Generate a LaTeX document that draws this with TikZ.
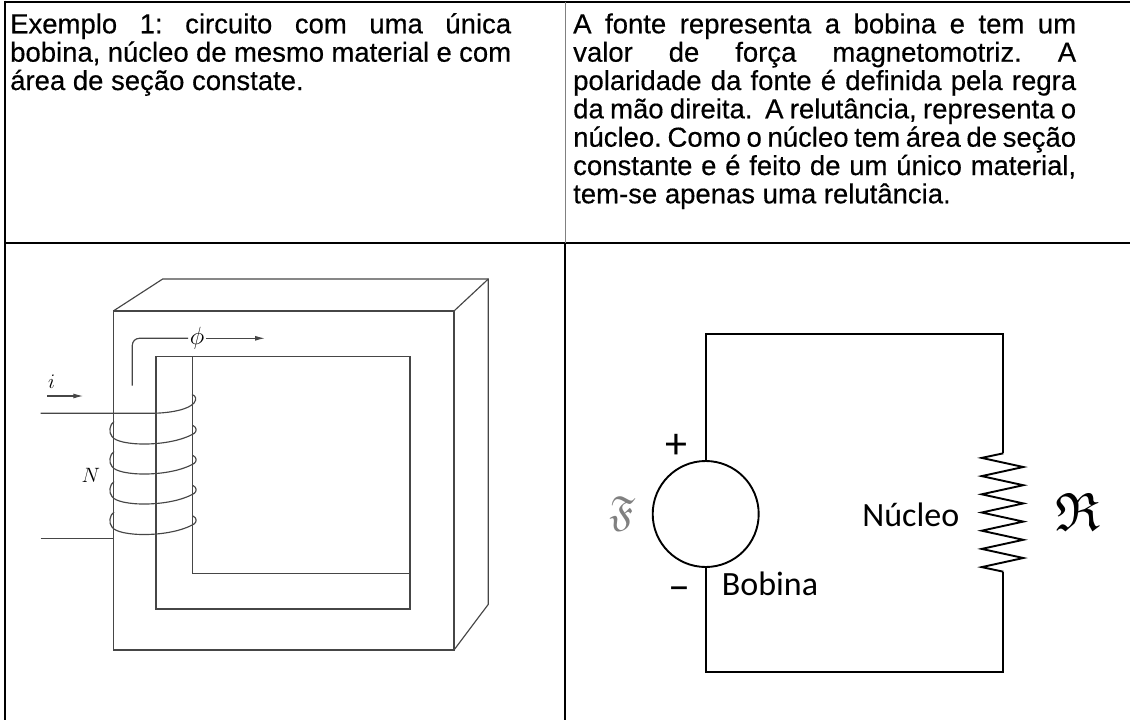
\documentclass[tikz,border=0pt]{standalone}
\usepackage{amssymb}
\usepackage{fontspec}
\setmainfont{Liberation Sans}[FakeBold=0.4]
\newfontfamily\carlito{Carlito}
\usetikzlibrary{arrows.meta}
\definecolor{coregray}{RGB}{70,70,70}
\begin{document}
\begin{tikzpicture}[x=1pt,y=-1pt,
  core/.style={draw=coregray, line width=1.15pt},
  wire/.style={draw=black, line width=1.9pt},
  tline/.style={anchor=base west, inner sep=0pt, font=\frenchspacing\fontsize{27.5}{28}\selectfont},
  lbl/.style={inner sep=0pt, font=\carlito\fontsize{34}{34}\selectfont},
  sgn/.style={inner sep=0pt, font=\carlito\fontsize{44}{44}\selectfont},
  mlbl/.style={inner sep=0pt, font=\fontsize{21}{21}\selectfont},
  arr/.style={-{Latex[length=10pt,width=5pt]}}]
\useasboundingbox (0,0) rectangle (1130,720);
% table
\draw[line width=2pt] (5,1.5) -- (1130,1.5);
\draw[line width=2pt] (5,0.5) -- (5,720);
\draw[line width=2pt] (5,243) -- (1130,243);
\draw[line width=0.9pt, draw=gray] (565,1.5) -- (565,243);
\draw[line width=2pt] (565,243) -- (565,720);
% left text
\node[tline] (a1) at (10,33.3) {\hbox to 501pt{Exemplo 1: circuito com uma única}};
\node[tline] (a2) at (10,61.7) {\hbox to 501pt{bobina, núcleo de mesmo material e com}};
\node[tline] (a3) at (10,90) {área de seção constate.};
% right text
\node[tline] (b1) at (573,33.3) {\hbox to 503pt{A fonte representa a bobina e tem um}};
\node[tline] (b2) at (573,61.7) {\hbox to 503pt{valor de força magnetomotriz. A}};
\node[tline] (b3) at (573,90) {\hbox to 503pt{polaridade da fonte é definida pela regra}};
\node[tline] (b4) at (573,118.3) {\hbox to 503pt{da mão direita.\ \ A relutância, representa o}};
\node[tline] (b5) at (573,146.7) {\hbox to 503pt{núcleo. Como o núcleo tem área de seção}};
\node[tline] (b6) at (573,175) {\hbox to 503pt{constante e é feito de um único material,}};
\node[tline] (b7) at (573,203.3) {tem-se apenas uma relutância.};
% core
\draw[core] (113.3,311) rectangle (454,650);
\draw[core] (113.3,311) -- (162.7,279) -- (488.3,279) -- (488.3,604.3) -- (454,650);
\draw[core] (454,311) -- (488.3,279);
\draw[core] (156,356.7) rectangle (410,609);
\draw[core] (192.3,356.7) -- (192.3,573.3) -- (410,573.3);
% flux
\coordinate (phs) at (132.3,385.7);
\coordinate (phc) at (132.3,338.3);
\coordinate (phe) at (265,338.3);
\node[inner sep=1.5pt, font=\fontsize{26}{26}\selectfont] (phi) at (197,338.3) {$\phi$};
\draw[core, rounded corners=7pt] (phs) -- (phc) -- (phi.west);
\draw[core, arr] (phi.east) -- (phe);
% current
\node[mlbl] (ilab) at (51.7,381.7) {$i$};
\coordinate (ia) at (47.3,396);
\coordinate (ib) at (83.3,396);
\draw[core, arr] (ia) -- (ib);
\node[mlbl] (Nlab) at (90.8,475) {$N$};
% coil
\coordinate (w1) at (40.7,413.3);
\draw[core] (w1) -- (150,413.3) .. controls (172,413.3) and (189,409) .. (194,403) .. controls (197,399) and (196,396) .. (192,394.5);
\foreach \yb in {445.5,475.5,505.5,536}{
  \draw[core] (114,{\yb-24}) .. controls (109.5,{\yb-21}) and (108.5,{\yb-13}) .. (112,{\yb-9})
    .. controls (118,{\yb+1}) and (170,{\yb+2}) .. (194,{\yb-12})
    .. controls (197,{\yb-14}) and (197,{\yb-18}) .. (193,{\yb-20});
}
\coordinate (w2) at (40.7,538.3);
\coordinate (w2e) at (113.3,538.3);
\draw[core] (w2) -- (w2e);
% circuit
\coordinate (tl) at (705.7,334.3);
\coordinate (tr) at (1003.3,334.3);
\coordinate (rt) at (1003.3,453.3);
\coordinate (rb) at (1003.3,571.7);
\coordinate (br) at (1003.3,671.7);
\coordinate (bl) at (705.7,671.7);
\node[circle, wire, minimum size=106pt, inner sep=0pt] (src) at (705.7,514) {};
\draw[wire] (src.north) -- (tl) -- (tr) -- (rt);
\draw[wire] (rt) -- (981.7,457.9) -- (1023.3,467) -- (981.7,476.1) -- (1023.3,485.2)
  -- (981.7,494.3) -- (1023.3,503.4) -- (981.7,512.5) -- (1023.3,521.6)
  -- (981.7,530.7) -- (1023.3,539.8) -- (981.7,548.9) -- (1023.3,558)
  -- (981.7,567.1) -- (rb);
\draw[wire] (rb) -- (br) -- (bl) -- (src.south);
\node[sgn, anchor=base] (plus) at (676.7,458) {+};
\node[sgn, anchor=base] (minus) at (679,600) {–};
\node[lbl, anchor=base] (nuc) at (910.8,526) {Núcleo};
\node[lbl, anchor=base west] (bob) at (721.7,595) {Bobina};
\node[inner sep=0pt, text=gray] (F) at (622.3,514) {\fontsize{42}{42}\selectfont$\mathfrak{F}$};
\node[inner sep=0pt] (R) at (1078.3,512) {\fontsize{54}{54}\selectfont$\mathfrak{R}$};
\end{tikzpicture}
\end{document}
